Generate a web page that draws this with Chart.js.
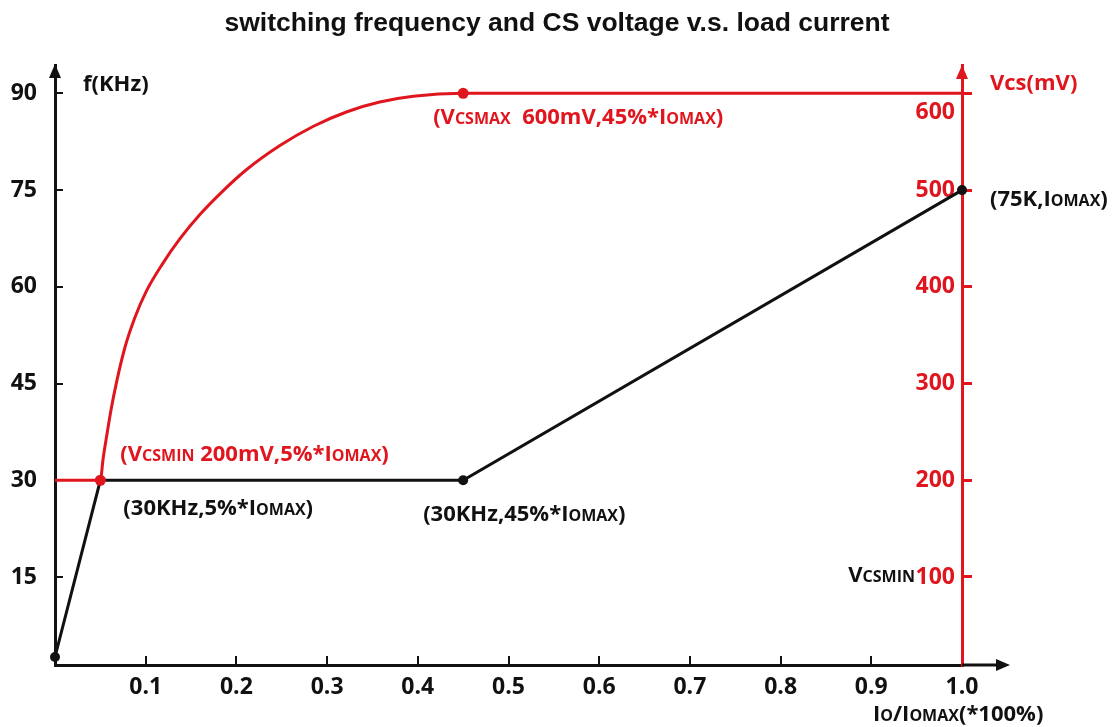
<!DOCTYPE html>
<html>
<head>
<meta charset="utf-8">
<title>switching frequency and CS voltage v.s. load current</title>
<script src="https://cdn.jsdelivr.net/npm/chart.js@4.4.1/dist/chart.umd.min.js"></script>
<style>
  html, body { margin: 0; padding: 0; background: #fff; }
  #wrap { width: 1114px; height: 727px; }
</style>
</head>
<body>
<div id="wrap"><canvas id="chart-freq-vcs" width="1114" height="727"></canvas></div>
<script>
// load current as a fraction of IOMAX
const loadX = [0, 0.05, 0.45, 1.0];
const freqKHz = [2.6, 30, 30, 75];
const freqDots = [0, 0.45, 1.0];

// CS voltage
const vcsX = [0, 0.05, 0.053, 0.057, 0.062, 0.068, 0.077, 0.088, 0.101, 0.118, 0.138, 0.16, 0.185, 0.211, 0.248, 0.285, 0.322, 0.358, 0.395, 0.45, 1.0];
const vcsMV = [200, 200, 222, 246, 274, 302, 337, 368, 396, 423, 450, 475, 499, 521, 546, 566, 581, 591, 597, 600, 600];
const vcsDots = [0.05, 0.45];

const xTicks = [0.1, 0.2, 0.3, 0.4, 0.5, 0.6, 0.7, 0.8, 0.9, 1.0];
const freqTicks = [15, 30, 45, 60, 75, 90];
const vcsTicks = [100, 200, 300, 400, 500, 600];

const FREQ_MIN = 1.35, FREQ_MAX = 94.4;
const MV_PER_KHZ = 20 / 3;   // 30kHz line sits on 200mV, 90kHz on 600mV

const RED = '#e0161e';
const INK = '#111111';
const FONT = "'Open Sans', 'Noto Sans', sans-serif";
const BIG = 22, SMALL = 16;

// text with small-caps subscripts: [text, isSmall]
function richText(ctx, parts, x, midY, align, color) {
    let w = 0;
    parts.forEach(p => {
        ctx.font = 'bold ' + (p[1] ? SMALL : BIG) + 'px ' + FONT;
        w += ctx.measureText(p[0]).width;
    });
    let cx = align === 'right' ? x - w : x;
    const base = midY + 8;
    ctx.fillStyle = color;
    ctx.textAlign = 'left';
    ctx.textBaseline = 'alphabetic';
    parts.forEach(p => {
        ctx.font = 'bold ' + (p[1] ? SMALL : BIG) + 'px ' + FONT;
        ctx.fillText(p[0], cx, base);
        cx += ctx.measureText(p[0]).width;
    });
}

const notes = [
    { parts: [['(V', 0], ['CSMAX', 1], ['  600mV,45%*I', 0], ['OMAX', 1], [')', 0]], at: [0.45, 600, 'y2'], dx: -30, dy: 23, color: RED },
    { parts: [['(V', 0], ['CSMIN', 1], [' 200mV,5%*I', 0], ['OMAX', 1], [')', 0]], at: [0.05, 200, 'y2'], dx: 20, dy: -27, color: RED },
    { parts: [['(30KHz,5%*I', 0], ['OMAX', 1], [')', 0]], at: [0.05, 30, 'y'], dx: 23, dy: 27, color: INK },
    { parts: [['(30KHz,45%*I', 0], ['OMAX', 1], [')', 0]], at: [0.45, 30, 'y'], dx: -40, dy: 33, color: INK },
    { parts: [['(75K,I', 0], ['OMAX', 1], [')', 0]], at: [1.0, 75, 'y'], dx: 28, dy: 8, color: INK },
    { parts: [['V', 0], ['CSMIN', 1]], at: [1.0, 100, 'y2'], dx: -47, dy: -3, color: INK, align: 'right' },
    { parts: [['f(KHz)', 0]], at: [0, 90, 'y'], dx: 28, dy: -10, color: INK },
    { parts: [['Vcs(mV)', 0]], at: [1.0, 600, 'y2'], dx: 28, dy: -11, color: RED },
    { parts: [['I', 0], ['O', 1], ['/I', 0], ['OMAX', 1], ['(*100%)', 0]], at: [1.0, FREQ_MIN, 'y'], dx: -89, dy: 48, color: INK }
];

function arrow(ctx, tipX, tipY, dir, color) {
    ctx.fillStyle = color;
    ctx.beginPath();
    if (dir === 'up') {
        ctx.moveTo(tipX, tipY);
        ctx.lineTo(tipX - 6, tipY + 14);
        ctx.lineTo(tipX + 6, tipY + 14);
    } else {
        ctx.moveTo(tipX, tipY);
        ctx.lineTo(tipX - 14, tipY - 6);
        ctx.lineTo(tipX - 14, tipY + 6);
    }
    ctx.closePath();
    ctx.fill();
}

const decorPlugin = {
    id: 'decor',
    afterDraw(chart) {
        const ctx = chart.ctx;
        const a = chart.chartArea;
        const sx = chart.scales.x;
        ctx.save();
        // axis arrows
        arrow(ctx, a.left, a.top - 1, 'up', INK);
        arrow(ctx, sx.getPixelForValue(1.0), a.top, 'up', RED);
        ctx.strokeStyle = INK;
        ctx.lineWidth = 3;
        ctx.beginPath();
        ctx.moveTo(a.right, a.bottom);
        ctx.lineTo(1000, a.bottom);
        ctx.stroke();
        arrow(ctx, 1010, a.bottom, 'right', INK);
        // annotations
        notes.forEach(n => {
            const px = sx.getPixelForValue(n.at[0]) + n.dx;
            const py = chart.scales[n.at[2]].getPixelForValue(n.at[1]) + n.dy;
            richText(ctx, n.parts, px, py, n.align || 'left', n.color);
        });
        ctx.restore();
    }
};

const tickFont = { family: FONT, size: 23, weight: 'bold' };

new Chart(document.getElementById('chart-freq-vcs'), {
    type: 'line',
    data: {
        datasets: [{
            label: 'Vcs (mV)',
            yAxisID: 'y2',
            data: vcsX.map((x, i) => ({ x: x, y: vcsMV[i] })),
            borderColor: RED,
            backgroundColor: RED,
            borderWidth: 3,
            cubicInterpolationMode: 'monotone',
            pointRadius: c => vcsDots.includes(vcsX[c.dataIndex]) ? 5.5 : 0,
            pointBorderWidth: 0,
            clip: false
        }, {
            label: 'f (kHz)',
            yAxisID: 'y',
            data: loadX.map((x, i) => ({ x: x, y: freqKHz[i] })),
            borderColor: INK,
            backgroundColor: INK,
            borderWidth: 3,
            tension: 0,
            pointRadius: c => freqDots.includes(loadX[c.dataIndex]) ? 5 : 0,
            pointBorderWidth: 0,
            clip: false
        }]
    },
    options: {
        responsive: false,
        animation: false,
        devicePixelRatio: 1,
        layout: { padding: 0 },
        plugins: {
            legend: { display: false },
            tooltip: { enabled: false },
            title: {
                display: true,
                text: 'switching frequency and CS voltage v.s. load current',
                color: INK,
                font: { family: "'Liberation Sans', Arial, sans-serif", size: 26.5, weight: 'bold' },
                padding: { top: 8, bottom: 25.2 }
            }
        },
        scales: {
            x: {
                type: 'linear',
                min: 0,
                max: 1.0,
                afterBuildTicks: s => { s.ticks = xTicks.map(v => ({ value: v })); },
                afterFit: s => { s.height = 62; },
                border: { color: INK, width: 3 },
                grid: { drawOnChartArea: false, color: INK, lineWidth: 2, tickLength: -9 },
                ticks: { color: INK, font: tickFont, padding: 18, maxRotation: 0, callback: v => v.toFixed(1) }
            },
            y: {
                position: 'left',
                min: FREQ_MIN,
                max: FREQ_MAX,
                afterBuildTicks: s => { s.ticks = freqTicks.map(v => ({ value: v })); },
                afterFit: s => { s.width = 55; },
                border: { color: INK, width: 3 },
                grid: { drawOnChartArea: false, color: INK, lineWidth: 2, tickLength: -8 },
                ticks: { color: INK, font: tickFont, padding: 26, callback: v => String(v) }
            },
            y2: {
                position: 'right',
                min: FREQ_MIN * MV_PER_KHZ,
                max: FREQ_MAX * MV_PER_KHZ,
                afterBuildTicks: s => { s.ticks = vcsTicks.map(v => ({ value: v })); },
                afterFit: s => { s.width = 152; },
                border: { color: RED, width: 3 },
                grid: { drawOnChartArea: false, color: RED, lineWidth: 3, tickLength: 10 },
                ticks: {
                    color: RED,
                    mirror: true,
                    padding: -7,
                    font: c => ({ family: FONT, size: 23, weight: 'bold', lineHeight: c.tick && c.tick.value === 600 ? 1.7 : 1.2 }),
                    callback: v => v === 600 ? ['', '600'] : String(v)
                }
            }
        }
    },
    plugins: [decorPlugin]
});
</script>
</body>
</html>
